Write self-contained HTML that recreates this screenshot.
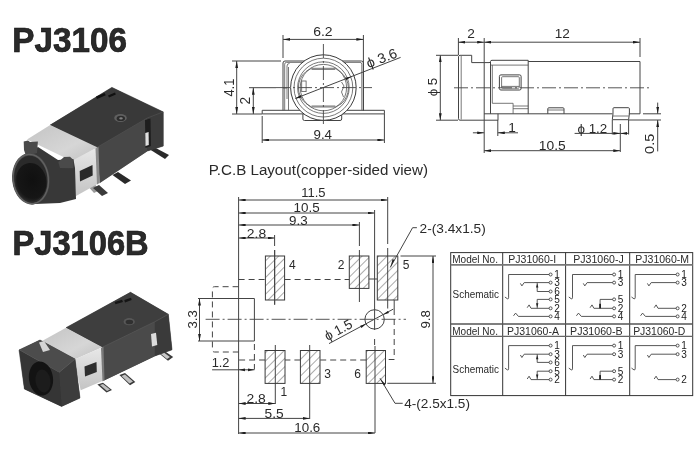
<!DOCTYPE html>
<html><head><meta charset="utf-8">
<style>
html,body{margin:0;padding:0;background:#fff;}
svg{display:block;}
text{font-family:"Liberation Sans",sans-serif;fill:#2a2a2a;}
.t{font-family:"Liberation Sans",sans-serif;}
.ln{stroke:#444;stroke-width:1;fill:none;}
.th{stroke:#555;stroke-width:0.8;fill:none;}
.cl{stroke:#444;stroke-width:0.9;fill:none;stroke-dasharray:14 3 2 3;}
.sc{stroke:#444;stroke-width:0.9;fill:none;}
.lb{fill:#222;}
.ds{stroke:#444;stroke-width:1;fill:none;stroke-dasharray:6 4;}
</style></head>
<body>
<svg width="700" height="450" viewBox="0 0 700 450" style="will-change:transform">
<defs>
<marker id="ar" viewBox="0 0 7 2.8" refX="7" refY="1.4" markerWidth="7" markerHeight="2.8" markerUnits="userSpaceOnUse" orient="auto-start-reverse">
<path d="M0,0 L7,1.4 L0,2.8 z" fill="#1e1e1e"/>
</marker>
<pattern id="hatch" patternUnits="userSpaceOnUse" width="5.9" height="5.9" patternTransform="rotate(45)">
<line x1="0" y1="0" x2="0" y2="5.9" stroke="#444" stroke-width="0.9"/>
</pattern>
</defs>
<rect width="700" height="450" fill="#fff"/>
<!-- TITLES -->
<text x="12.3" y="52.2" font-size="34.6" font-weight="bold" fill="#111" stroke="#111" stroke-width="0.7" textLength="114.6" lengthAdjust="spacingAndGlyphs">PJ3106</text>
<text x="12.5" y="254.9" font-size="34.6" font-weight="bold" fill="#111" stroke="#111" stroke-width="0.7" textLength="136.2" lengthAdjust="spacingAndGlyphs">PJ3106B</text>
<!--FRONT-->
<g id="front">
<!-- dims -->
<line class="ln" x1="283" y1="39.4" x2="363.4" y2="39.4" marker-start="url(#ar)" marker-end="url(#ar)"/>
<line class="ln" x1="283" y1="35" x2="283" y2="58"/>
<line class="ln" x1="363.4" y1="35" x2="363.4" y2="110.5"/>
<line class="ln" x1="232" y1="61" x2="281" y2="61"/>
<line class="ln" x1="232" y1="114" x2="262" y2="114"/>
<line class="ln" x1="236.7" y1="61" x2="236.7" y2="114" marker-start="url(#ar)" marker-end="url(#ar)"/>
<line class="ln" x1="249" y1="87.7" x2="276" y2="87.7"/>
<line class="ln" x1="253.3" y1="87.7" x2="253.3" y2="114" marker-start="url(#ar)" marker-end="url(#ar)"/>
<line class="ln" x1="262.2" y1="116" x2="262.2" y2="143"/>
<line class="ln" x1="384.4" y1="114" x2="384.4" y2="143"/>
<line class="ln" x1="262.2" y1="140" x2="384.4" y2="140" marker-start="url(#ar)" marker-end="url(#ar)"/>
<!-- body -->
<path class="ln" d="M262.2,110.3 H384.4 V113.9 H262.2 Z"/>
<path class="ln" d="M283,110.3 V63 Q283,61 285,61 H361.4 Q363.4,61 363.4,63 V110.3"/>
<path class="th" d="M284.7,110.3 V64.2 Q284.7,62.4 286.5,62.4 H360 Q361.8,62.4 361.8,64.2 V110.3"/>
<path class="th" d="M287,99 V66 Q287,63.5 289.5,63.5"/>
<path class="th" d="M288.5,110.3 V67"/>
<path class="th" d="M283,88 H287"/>
<path class="ln" d="M302.9,113.9 V119 Q302.9,120.5 304.5,120.5 H340 Q341.7,120.5 341.7,119 V113.9"/>
<circle cx="323.4" cy="87.6" r="32.8" fill="#fff" stroke="#3a3a3a" stroke-width="1"/>
<circle class="th" cx="323.4" cy="87.6" r="29.4"/>
<circle class="th" cx="323.4" cy="87.6" r="25.8"/>
<circle class="th" cx="323.4" cy="87.6" r="23.2"/>
<path class="th" d="M311.5,68.3 H335.3 L340.5,72 A20.6,20.6 0 0 1 341,104 L335.3,107 H311.5 L306,103.5 A20.6,20.6 0 0 1 306,71.5 Z"/>
<path class="th" d="M311.5,69.4 H335.3 M311.5,106 H335.3"/>
<rect class="th" x="301.7" y="81" width="4.4" height="10.6"/>
<path class="th" d="M341.5,82 L344,86 L341.5,92 L343.5,97"/>
<line class="cl" x1="276" y1="87.6" x2="372" y2="87.6"/>
<line class="cl" x1="323.4" y1="44" x2="323.4" y2="124"/>
<line class="ln" x1="295.5" y1="98.4" x2="400.6" y2="57.4"/>
<path d="M295,98.7 L301.6,97.5 L300.6,95.1 Z" fill="#1e1e1e"/>
<path d="M351.8,76.5 L346.2,80.1 L345.2,77.7 Z" fill="#1e1e1e"/>
<text transform="translate(368.6,68.3) rotate(-21.3)" font-size="13.8" textLength="31.8" lengthAdjust="spacingAndGlyphs">&#981; 3.6</text>
</g>

<!--SIDE-->
<g id="side">
<line class="ln" x1="458.4" y1="38" x2="458.4" y2="55"/>
<line class="ln" x1="484.2" y1="38" x2="484.2" y2="153"/>
<line class="ln" x1="640" y1="38" x2="640" y2="57"/>
<line class="ln" x1="458.4" y1="42.2" x2="484.2" y2="42.2" marker-start="url(#ar)" marker-end="url(#ar)"/>
<line class="ln" x1="484.2" y1="42.2" x2="640" y2="42.2" marker-start="url(#ar)" marker-end="url(#ar)"/>
<line class="ln" x1="436" y1="55.3" x2="458" y2="55.3"/>
<line class="ln" x1="436" y1="120.2" x2="458" y2="120.2"/>
<line class="ln" x1="440.3" y1="55.3" x2="440.3" y2="120.2" marker-start="url(#ar)" marker-end="url(#ar)"/>
<!-- plug -->
<path class="ln" d="M484.1,120.2 H460 Q458.5,120.2 458.5,118.7 V56.8 Q458.5,55.3 460,55.3 H471.7 V62.6 H484.1"/>
<line class="th" x1="461.2" y1="56" x2="461.2" y2="119.5"/>
<!-- body -->
<path class="ln" d="M484.1,62.6 H489 Q490.5,62.6 490.5,61.5 Q490.5,60.3 492,60.3 H528.2"/>
<path class="ln" d="M528.2,61.5 H640 V113.8 H628.8 M612.6,113.8 H498 M484.1,113.8 H498 V120.2 H484.1"/>
<line class="ln" x1="490.5" y1="62" x2="490.5" y2="113.8"/>
<line class="th" x1="492.3" y1="65.1" x2="492.3" y2="103.3"/>
<line class="th" x1="490.5" y1="65.1" x2="528.2" y2="65.1"/>
<path class="th" d="M492.3,103.3 H513.1 V113.8 M513.1,106 H528.2 M513.1,108.7 H528.2"/>
<line class="ln" x1="528.2" y1="60.3" x2="528.2" y2="113.8"/>
<rect class="ln" x="499.4" y="74.9" width="21.7" height="15.1" rx="1.5"/>
<rect class="th" x="501.6" y="76.7" width="17.7" height="11.5" rx="1"/>
<line class="th" x1="501.6" y1="86.4" x2="519.3" y2="86.4"/>
<path class="ln" d="M547.8,113.8 V108.8 Q547.8,107.8 548.8,107.8 H563 Q564,107.8 564,108.8 V113.8"/>
<line class="th" x1="547.8" y1="110" x2="564" y2="110"/>
<path class="ln" d="M613,113.8 V108.7 Q613,107.7 614,107.7 H628.4 Q629.4,107.7 629.4,108.7 V113.8 L628.6,119.7 H612.3 Z"/>
<line class="th" x1="612.6" y1="116" x2="628.8" y2="116"/>
<line class="cl" x1="454" y1="87.8" x2="649" y2="87.8"/>
<!-- bottom dims -->
<line class="ln" x1="497.8" y1="120" x2="497.8" y2="136"/>
<line class="ln" x1="472.9" y1="132.8" x2="484.2" y2="132.8" marker-end="url(#ar)"/>
<line class="ln" x1="518" y1="132.8" x2="497.8" y2="132.8" marker-end="url(#ar)"/>
<line class="ln" x1="484.2" y1="150.7" x2="620.3" y2="150.7" marker-start="url(#ar)" marker-end="url(#ar)"/>
<line class="ln" x1="612.3" y1="120" x2="612.3" y2="134.5"/>
<line class="ln" x1="628.6" y1="120" x2="628.6" y2="134.5"/>
<line class="ln" x1="620.3" y1="124" x2="620.3" y2="152"/>
<line class="ln" x1="574.6" y1="133.4" x2="620.3" y2="133.4" marker-end="url(#ar)"/>
<line class="ln" x1="628.6" y1="133.4" x2="620.3" y2="133.4" marker-end="url(#ar)"/>
<line class="ln" x1="643" y1="113.8" x2="661" y2="113.8"/>
<line class="ln" x1="628.6" y1="120" x2="661" y2="120"/>
<line class="ln" x1="657.7" y1="102.6" x2="657.7" y2="113.8" marker-end="url(#ar)"/>
<line class="ln" x1="657.7" y1="151.4" x2="657.7" y2="120" marker-end="url(#ar)"/>
</g>

<!--PCB-->
<g id="pcb">
<line class="ln" x1="238.6" y1="197" x2="238.6" y2="434"/>
<line class="ln" x1="238.6" y1="200" x2="387.7" y2="200" marker-start="url(#ar)" marker-end="url(#ar)"/>
<line class="ln" x1="238.6" y1="213" x2="374.5" y2="213" marker-start="url(#ar)" marker-end="url(#ar)"/>
<line class="ln" x1="238.6" y1="225" x2="359.4" y2="225" marker-start="url(#ar)" marker-end="url(#ar)"/>
<line class="ln" x1="238.6" y1="238" x2="274.6" y2="238" marker-start="url(#ar)" marker-end="url(#ar)"/>
<!-- ext / centre lines -->
<path class="ln" d="M387.7,197 V244 M387.7,248 V308.5"/>
<line class="ln" x1="374.6" y1="210" x2="374.6" y2="330"/>
<path class="ln" d="M359.4,222 V246 M359.4,250 V302"/>
<path class="ln" d="M274.6,235 V246 M274.6,250 V304"/>
<path class="ds" d="M374.6,339 V346"/>
<path class="ln" d="M375,346 V433"/>
<path class="ln" d="M275.3,345 V404"/>
<path class="ln" d="M309.7,345 V419"/>
<!-- pads -->
<rect x="265.4" y="256" width="19.2" height="44" fill="url(#hatch)" stroke="#3a3a3a" stroke-width="1"/>
<rect x="349.3" y="256" width="19.6" height="32.4" fill="url(#hatch)" stroke="#3a3a3a" stroke-width="1"/>
<rect x="377.3" y="256" width="20.5" height="44" fill="url(#hatch)" stroke="#3a3a3a" stroke-width="1"/>
<rect x="265.1" y="350.5" width="19.9" height="32.9" fill="url(#hatch)" stroke="#3a3a3a" stroke-width="1"/>
<rect x="300.4" y="350.5" width="19.6" height="32.9" fill="url(#hatch)" stroke="#3a3a3a" stroke-width="1"/>
<rect x="366.2" y="350.5" width="19.3" height="32.9" fill="url(#hatch)" stroke="#3a3a3a" stroke-width="1"/>
<line class="ln" x1="274.7" y1="250" x2="274.7" y2="305"/>
<!-- dashed outline -->
<path class="ds" d="M238.6,279.5 H265.4 M284.6,279.5 H349.3"/>
<path class="ln" d="M368.9,279 H377.3"/>
<path class="ds" d="M238.6,286.7 H214.6 Q212.4,286.7 212.4,289 V349.5 Q212.4,352 214.6,352 H238.6"/>
<path class="ds" d="M394.2,309 V359.5 H385.5 M366.2,360 H320 M300.4,360 H285 M265.1,360 H238.6"/>
<line class="ln" x1="394.2" y1="300" x2="394.2" y2="309"/>
<!-- plug rect -->
<path class="ln" d="M198,298.5 H254.4 V341 H198"/>
<path class="ds" d="M254.4,344 V369.5"/>
<line class="ln" x1="199.5" y1="298.5" x2="199.5" y2="341" marker-start="url(#ar)" marker-end="url(#ar)"/>
<line class="cl" x1="205.6" y1="319.3" x2="406" y2="319.3"/>
<circle class="ln" cx="374.6" cy="319.4" r="9.7"/>
<line class="ln" x1="329" y1="343.6" x2="393.3" y2="309.1"/>
<path d="M366.1,324 L361.4,328 L360.2,325.7 Z" fill="#1e1e1e"/>
<path d="M383.1,314.8 L389,313.1 L387.8,310.9 Z" fill="#1e1e1e"/>
<text transform="translate(327.6,341) rotate(-28.2)" font-size="13.6" textLength="29.5" lengthAdjust="spacingAndGlyphs">&#981; 1.5</text>
<!-- 9.8 -->
<line class="ln" x1="400.5" y1="256" x2="436" y2="256"/>
<line class="ln" x1="387.3" y1="383.3" x2="436" y2="383.3"/>
<line class="ln" x1="433" y1="256" x2="433" y2="383.3" marker-start="url(#ar)" marker-end="url(#ar)"/>
<!-- leaders -->
<polyline class="ln" points="416.9,227.7 412.6,227.7 390.3,267.4"/>
<path d="M390.3,267.4 L392.6,259 L394.4,260.1 Z" fill="#222"/>
<polyline class="ln" points="380,378.3 395,403.3 402.7,403.3"/>
<path d="M380,378.3 L385.5,384.5 L383.8,385.6 Z" fill="#222"/>
<!-- 1.2 -->
<line class="ln" x1="212.1" y1="369.8" x2="254.4" y2="369.8"/>
<path d="M238.6,369.8 L245,368.4 L245,371.2 Z" fill="#222"/>
<path d="M254.4,369.8 L248,368.4 L248,371.2 Z" fill="#222"/>
<!-- bottom dims -->
<line class="ln" x1="238.6" y1="403.5" x2="275.3" y2="403.5" marker-start="url(#ar)" marker-end="url(#ar)"/>
<line class="ln" x1="238.6" y1="418.4" x2="309.7" y2="418.4" marker-start="url(#ar)" marker-end="url(#ar)"/>
<line class="ln" x1="238.6" y1="433" x2="375" y2="433" marker-start="url(#ar)" marker-end="url(#ar)"/>
</g>

<!--TABLE-->
<g id="table">
<rect x="450.7" y="252.6" width="242" height="143" fill="none" stroke="#333" stroke-width="1"/>
<line x1="502.7" y1="252.6" x2="502.7" y2="395.6" stroke="#333" stroke-width="1"/>
<line x1="565.6" y1="252.6" x2="565.6" y2="395.6" stroke="#333" stroke-width="1"/>
<line x1="629.7" y1="252.6" x2="629.7" y2="395.6" stroke="#333" stroke-width="1"/>
<line x1="450.7" y1="264.9" x2="692.7" y2="264.9" stroke="#777" stroke-width="1.7"/>
<line x1="450.7" y1="324" x2="692.7" y2="324" stroke="#555" stroke-width="1.4"/>
<line x1="450.7" y1="336.4" x2="692.7" y2="336.4" stroke="#666" stroke-width="1.4"/>
<path class="sc" d="M549.1,274.5 H508.6 V297.8 Q508.6,299.0 507.4,298.8 L504.9,297.0"/>
<circle class="sc" cx="550.6" cy="274.5" r="1.5"/>
<text x="554.2" y="278.1" font-size="10.3" textLength="5.6" lengthAdjust="spacingAndGlyphs" class="lb">1</text>
<path class="sc" d="M520.4,283.4 L521.9,285.9 L524.2,282.6 H549.1"/>
<circle class="sc" cx="550.6" cy="282.6" r="1.5"/>
<text x="554.2" y="286.2" font-size="10.3" textLength="5.6" lengthAdjust="spacingAndGlyphs" class="lb">3</text>
<path class="sc" d="M537.2,291.5 H549.1"/>
<circle class="sc" cx="550.6" cy="291.5" r="1.5"/>
<text x="554.2" y="295.1" font-size="10.3" textLength="5.6" lengthAdjust="spacingAndGlyphs" class="lb">6</text>
<path class="sc" d="M537.2,299.4 H549.1"/>
<circle class="sc" cx="550.6" cy="299.4" r="1.5"/>
<text x="554.2" y="303.0" font-size="10.3" textLength="5.6" lengthAdjust="spacingAndGlyphs" class="lb">5</text>
<path class="sc" d="M527.2,307.7 L529.1,304.9 L531.0,308.3 H549.1"/>
<circle class="sc" cx="550.6" cy="308.3" r="1.5"/>
<text x="554.2" y="311.9" font-size="10.3" textLength="5.6" lengthAdjust="spacingAndGlyphs" class="lb">2</text>
<path class="sc" d="M513.5,315.8 L515.6,313.1 L518.4,316.4 H549.1"/>
<circle class="sc" cx="550.6" cy="316.4" r="1.5"/>
<text x="554.2" y="320.0" font-size="10.3" textLength="5.6" lengthAdjust="spacingAndGlyphs" class="lb">4</text>
<path class="sc" d="M537.2,282.6 V291.5"/>
<path d="M537.2,283.4 L538.4,287.6 L536.0,287.6 Z" fill="#222"/>
<path class="sc" d="M537.2,299.4 V308.3"/>
<path d="M537.2,307.5 L538.4,303.3 L536.0,303.3 Z" fill="#222"/>
<path class="sc" d="M612.6,274.5 H572.5 V297.8 Q572.5,299.0 571.3,298.8 L568.8,297.0"/>
<circle class="sc" cx="614.1" cy="274.5" r="1.5"/>
<text x="617.7" y="278.1" font-size="10.3" textLength="5.6" lengthAdjust="spacingAndGlyphs" class="lb">1</text>
<path class="sc" d="M583.3,283.4 L584.8,285.9 L587.1,282.6 H612.6"/>
<circle class="sc" cx="614.1" cy="282.6" r="1.5"/>
<text x="617.7" y="286.2" font-size="10.3" textLength="5.6" lengthAdjust="spacingAndGlyphs" class="lb">3</text>
<path class="sc" d="M600.1,299.4 H612.6"/>
<circle class="sc" cx="614.1" cy="299.4" r="1.5"/>
<text x="617.7" y="303.0" font-size="10.3" textLength="5.6" lengthAdjust="spacingAndGlyphs" class="lb">5</text>
<path class="sc" d="M590.1,307.7 L592.0,304.9 L593.9,308.3 H612.6"/>
<circle class="sc" cx="614.1" cy="308.3" r="1.5"/>
<text x="617.7" y="311.9" font-size="10.3" textLength="5.6" lengthAdjust="spacingAndGlyphs" class="lb">2</text>
<path class="sc" d="M576.4,315.8 L578.5,313.1 L581.3,316.4 H612.6"/>
<circle class="sc" cx="614.1" cy="316.4" r="1.5"/>
<text x="617.7" y="320.0" font-size="10.3" textLength="5.6" lengthAdjust="spacingAndGlyphs" class="lb">4</text>
<path class="sc" d="M600.1,299.4 V308.3"/>
<rect x="599.2" y="303.8" width="1.8" height="4.5" fill="#222"/>
<path class="sc" d="M676.1,274.5 H635.2 V297.8 Q635.2,299.0 634.0,298.8 L631.5,297.0"/>
<circle class="sc" cx="677.6" cy="274.5" r="1.5"/>
<text x="681.2" y="278.1" font-size="10.3" textLength="5.6" lengthAdjust="spacingAndGlyphs" class="lb">1</text>
<path class="sc" d="M647.4,283.4 L648.9,285.9 L651.2,282.6 H676.1"/>
<circle class="sc" cx="677.6" cy="282.6" r="1.5"/>
<text x="681.2" y="286.2" font-size="10.3" textLength="5.6" lengthAdjust="spacingAndGlyphs" class="lb">3</text>
<path class="sc" d="M654.2,307.7 L656.1,304.9 L658.0,308.3 H676.1"/>
<circle class="sc" cx="677.6" cy="308.3" r="1.5"/>
<text x="681.2" y="311.9" font-size="10.3" textLength="5.6" lengthAdjust="spacingAndGlyphs" class="lb">2</text>
<path class="sc" d="M640.5,315.8 L642.6,313.1 L645.4,316.4 H676.1"/>
<circle class="sc" cx="677.6" cy="316.4" r="1.5"/>
<text x="681.2" y="320.0" font-size="10.3" textLength="5.6" lengthAdjust="spacingAndGlyphs" class="lb">4</text>
<path class="sc" d="M549.1,345.6 H508.6 V368.9 Q508.6,370.1 507.4,369.9 L504.9,368.1"/>
<circle class="sc" cx="550.6" cy="345.6" r="1.5"/>
<text x="554.2" y="349.2" font-size="10.3" textLength="5.6" lengthAdjust="spacingAndGlyphs" class="lb">1</text>
<path class="sc" d="M520.4,355.0 L521.9,357.5 L524.2,354.2 H549.1"/>
<circle class="sc" cx="550.6" cy="354.2" r="1.5"/>
<text x="554.2" y="357.8" font-size="10.3" textLength="5.6" lengthAdjust="spacingAndGlyphs" class="lb">3</text>
<path class="sc" d="M537.2,362.4 H549.1"/>
<circle class="sc" cx="550.6" cy="362.4" r="1.5"/>
<text x="554.2" y="366.0" font-size="10.3" textLength="5.6" lengthAdjust="spacingAndGlyphs" class="lb">6</text>
<path class="sc" d="M537.2,371.2 H549.1"/>
<circle class="sc" cx="550.6" cy="371.2" r="1.5"/>
<text x="554.2" y="374.8" font-size="10.3" textLength="5.6" lengthAdjust="spacingAndGlyphs" class="lb">5</text>
<path class="sc" d="M527.2,379.0 L529.1,376.2 L531.0,379.6 H549.1"/>
<circle class="sc" cx="550.6" cy="379.6" r="1.5"/>
<text x="554.2" y="383.2" font-size="10.3" textLength="5.6" lengthAdjust="spacingAndGlyphs" class="lb">2</text>
<path class="sc" d="M537.2,354.2 V362.4"/>
<path d="M537.2,355.0 L538.4,359.2 L536.0,359.2 Z" fill="#222"/>
<path class="sc" d="M537.2,371.2 V379.6"/>
<path d="M537.2,378.8 L538.4,374.6 L536.0,374.6 Z" fill="#222"/>
<path class="sc" d="M612.6,345.6 H572.5 V368.9 Q572.5,370.1 571.3,369.9 L568.8,368.1"/>
<circle class="sc" cx="614.1" cy="345.6" r="1.5"/>
<text x="617.7" y="349.2" font-size="10.3" textLength="5.6" lengthAdjust="spacingAndGlyphs" class="lb">1</text>
<path class="sc" d="M583.3,355.0 L584.8,357.5 L587.1,354.2 H612.6"/>
<circle class="sc" cx="614.1" cy="354.2" r="1.5"/>
<text x="617.7" y="357.8" font-size="10.3" textLength="5.6" lengthAdjust="spacingAndGlyphs" class="lb">3</text>
<path class="sc" d="M600.1,371.2 H612.6"/>
<circle class="sc" cx="614.1" cy="371.2" r="1.5"/>
<text x="617.7" y="374.8" font-size="10.3" textLength="5.6" lengthAdjust="spacingAndGlyphs" class="lb">5</text>
<path class="sc" d="M590.1,379.0 L592.0,376.2 L593.9,379.6 H612.6"/>
<circle class="sc" cx="614.1" cy="379.6" r="1.5"/>
<text x="617.7" y="383.2" font-size="10.3" textLength="5.6" lengthAdjust="spacingAndGlyphs" class="lb">2</text>
<path class="sc" d="M600.1,371.2 V379.6"/>
<rect x="599.2" y="375.1" width="1.8" height="4.5" fill="#222"/>
<path class="sc" d="M676.1,345.6 H635.2 V368.9 Q635.2,370.1 634.0,369.9 L631.5,368.1"/>
<circle class="sc" cx="677.6" cy="345.6" r="1.5"/>
<text x="681.2" y="349.2" font-size="10.3" textLength="5.6" lengthAdjust="spacingAndGlyphs" class="lb">1</text>
<path class="sc" d="M647.4,355.0 L648.9,357.5 L651.2,354.2 H676.1"/>
<circle class="sc" cx="677.6" cy="354.2" r="1.5"/>
<text x="681.2" y="357.8" font-size="10.3" textLength="5.6" lengthAdjust="spacingAndGlyphs" class="lb">3</text>
<path class="sc" d="M654.2,379.0 L656.1,376.2 L658.0,379.6 H676.1"/>
<circle class="sc" cx="677.6" cy="379.6" r="1.5"/>
<text x="681.2" y="383.2" font-size="10.3" textLength="5.6" lengthAdjust="spacingAndGlyphs" class="lb">2</text>
</g>
<!--PHOTO1-->
<g id="photo1">
<defs>
<linearGradient id="sh1" x1="0" y1="0" x2="1" y2="1"><stop offset="0" stop-color="#c4c4c4"/><stop offset="0.6" stop-color="#d6d6d6"/><stop offset="1" stop-color="#c0c0c0"/></linearGradient>
<linearGradient id="sf1" x1="0" y1="0" x2="0" y2="1"><stop offset="0" stop-color="#e8e8e8"/><stop offset="1" stop-color="#c4c4c4"/></linearGradient>
<radialGradient id="hole1" cx="0.55" cy="0.45" r="0.6"><stop offset="0" stop-color="#101010"/><stop offset="0.8" stop-color="#161616"/><stop offset="1" stop-color="#2a2a2a"/></radialGradient>
</defs>
<!-- pins -->
<polygon points="146,147 151,145.5 169,155 165,159" fill="#2a2a2a"/>
<polygon points="112.5,175 118,172 131,180.5 125,184" fill="#2a2a2a"/>
<polygon points="86,184 92,181.5 100,190 94,193" fill="#9a9a9a"/>
<polygon points="93,188 99,185 108,193 102,196" fill="#3a3a3a"/>
<!-- body -->
<polygon points="50.2,125.1 111.9,87.4 163.2,111.9 163.2,146.1 147.3,151 99.7,182.8 97,149.5" fill="#3d3d3d" stroke="#3d3d3d" stroke-width="0.6"/>
<polygon points="50.2,125.1 111.9,87.4 163.2,111.9 147.3,118 97.2,147.3" fill="#393939"/>
<polygon points="97.2,147.3 147.3,118 147.3,151 99.7,182.8" fill="#474747"/>
<polygon points="147.3,118 163.2,111.9 163.2,146.1 147.3,151" fill="#3b3b3b"/>
<polyline points="97.2,147.3 147.3,118 163.2,111.9" fill="none" stroke="#4e4e4e" stroke-width="0.8"/>
<polygon points="145,120 150.5,118.5 151,146 145.5,148" fill="#1e1e1e"/>
<polygon points="145.3,133 148.6,132 148.8,145 145.5,146" fill="#e0e0e0"/>
<polygon points="96,96.5 104.5,93 105.8,95.2 97,99" fill="#111"/>
<polygon points="108,95.5 115,92.6 115.8,94.6 109,97.6" fill="#111"/>
<ellipse cx="120.5" cy="118" rx="6.3" ry="4" fill="#606060"/>
<ellipse cx="120.8" cy="118.4" rx="4.2" ry="2.6" fill="#2c2c2c"/>
<ellipse cx="121" cy="118.4" rx="1.8" ry="1.1" fill="#808080"/>
<!-- shell -->
<polygon points="27,139.5 50.2,125.1 97.2,147.3 74,162" fill="url(#sh1)"/>
<polygon points="36,148 57,160 73,162 58,164 37,152" fill="#ececec"/>
<polygon points="73.4,160 97.2,147.3 99.7,182.8 76,196" fill="url(#sf1)"/>
<polygon points="95.5,148.5 98.5,147 99.7,182.8 97,184.5" fill="#8a8a8a"/>
<polygon points="79.7,171 92.5,165 92.7,175.5 80,181.5" fill="#2a2a2a"/>
<!-- shroud -->
<polygon points="30,152 38,147 58,160 73.4,159 75,168 76,199 60,203 35,204 20,190 18,165" fill="#383838"/>
<polygon points="23.7,141.5 28,140.5 30,142 37.9,141.6 37,153 26,156 24,150" fill="#4a4a4a"/>
<polygon points="58.3,162 64,157 70,156.7 73.4,160 73.4,168.2 60,168" fill="#4a4a4a"/>
<!-- ring -->
<ellipse cx="30.8" cy="178.9" rx="18.7" ry="25.8" fill="#4c4c4c" transform="rotate(-6 30.8 178.9)"/>
<ellipse cx="30.8" cy="179.2" rx="16.6" ry="23.6" fill="#2a2a2a" transform="rotate(-6 30.8 179.2)"/>
<ellipse cx="30.8" cy="179" rx="17.6" ry="24.7" fill="none" stroke="#626262" stroke-width="1.2" transform="rotate(-6 30.8 179)"/>
<ellipse cx="31" cy="182" rx="15.5" ry="19.1" fill="url(#hole1)" transform="rotate(-6 31 182)"/>
</g>

<!--PHOTO2-->
<g id="photo2">
<!-- pins -->
<polygon points="153.7,349 159,347.3 173.2,357 168,360.8" fill="#3a3a3a"/>
<polygon points="156,350 159,349 170,357 167,359" fill="#c8c8c8"/>
<polygon points="119.4,375 125,373 135.3,382 130,385.2" fill="#3a3a3a"/>
<polygon points="121.5,376 125,374.5 133,381.5 129.5,383.5" fill="#c0c0c0"/>
<polygon points="97.4,384.5 103,382.8 112,390 106.5,392.6" fill="#3a3a3a"/>
<polygon points="100,385 103,384 110,389.5 107,391" fill="#c0c0c0"/>
<!-- body -->
<polygon points="66,327.7 130.5,292.3 168.3,314.3 172,349.8 154.9,355.9 103.6,380.4 102.3,347.3" fill="#424242" stroke="#424242" stroke-width="0.6"/>
<polygon points="66,327.7 130.5,292.3 168.3,314.3 154.9,321.7 102.3,347.3" fill="#3e3e3e"/>
<polygon points="102.3,347.3 154.9,321.7 154.9,355.9 103.6,380.4" fill="#4a4a4a"/>
<polygon points="154.9,321.7 168.3,314.3 172,349.8 154.9,355.9" fill="#3a3a3a"/>
<polyline points="102.3,347.3 154.9,321.7 168.3,314.3" fill="none" stroke="#555" stroke-width="0.8"/>
<polygon points="114.6,302 122,299.8 123,302 115.5,304.3" fill="#151515"/>
<polygon points="124.3,300 131,297.8 131.7,300 125,302.5" fill="#151515"/>
<ellipse cx="129.2" cy="321.7" rx="5.6" ry="3.6" fill="#585858"/>
<ellipse cx="129.4" cy="322" rx="3.8" ry="2.3" fill="#303030"/>
<polygon points="151,334 156,332.7 157.3,345 152,346.5" fill="#dcdcdc"/>
<!-- shell -->
<polygon points="42,341 66,327.7 102.3,347.3 74,359.7" fill="url(#sh1)"/>
<polygon points="74,359.7 102.3,347.3 103.6,380.4 80.7,390.3" fill="url(#sf1)"/>
<polygon points="101,348 103.5,346.8 104.5,380 102.5,381.5" fill="#7a7a7a"/>
<polygon points="84.5,366.5 96.5,362 96.8,372 85,376.5" fill="#2e2e2e"/>
<!-- frame -->
<polygon points="19,350 40,340 75,359 80,398 61.6,406.4 24.4,389" fill="#383838" stroke="#383838" stroke-width="0.5"/>
<polygon points="19,350 40,340 75,359 59,372.4" fill="#4c4c4c"/>
<polygon points="39,342.5 44,341 50,350 43,352" fill="#d4d4d4"/>
<polygon points="59,372.4 75,359 80,398 61.6,406.4" fill="#3c3c3c"/>
<polyline points="19.5,350 59,372.4 75,359" fill="none" stroke="#5a5a5a" stroke-width="1"/>
<polygon points="19.5,350.5 59,372.4 61.6,406.4 24.4,389" fill="#353535"/>
<ellipse cx="41" cy="378.5" rx="12" ry="17.2" fill="#131313" transform="rotate(-8 41 378.5)"/>
<ellipse cx="43" cy="381" rx="7.5" ry="11.5" fill="#1c1c1c" transform="rotate(-8 43 381)"/>
</g>

<g id="texts">
<text x="313.20" y="36.00" font-size="13.70" textLength="19.40" lengthAdjust="spacingAndGlyphs">6.2</text>
<text x="313.50" y="138.70" font-size="13.70" textLength="18.50" lengthAdjust="spacingAndGlyphs">9.4</text>
<text x="467.30" y="38.30" font-size="13.70">2</text>
<text x="554.68" y="37.90" font-size="13.70" textLength="15.13" lengthAdjust="spacingAndGlyphs">12</text>
<text x="508.33" y="131.70" font-size="13.70">1</text>
<text x="577.47" y="132.60" font-size="13.70" textLength="29.78" lengthAdjust="spacingAndGlyphs">&#981; 1.2</text>
<text x="538.76" y="149.70" font-size="13.70" textLength="26.91" lengthAdjust="spacingAndGlyphs">10.5</text>
<text x="208.69" y="174.70" font-size="15.07" textLength="219.28" lengthAdjust="spacingAndGlyphs">P.C.B Layout(copper-sided view)</text>
<text x="301.23" y="197.00" font-size="13.00" textLength="24.32" lengthAdjust="spacingAndGlyphs">11.5</text>
<text x="293.59" y="211.50" font-size="13.00" textLength="26.16" lengthAdjust="spacingAndGlyphs">10.5</text>
<text x="289.00" y="224.50" font-size="13.00" textLength="18.61" lengthAdjust="spacingAndGlyphs">9.3</text>
<text x="246.81" y="237.90" font-size="13.00" textLength="19.32" lengthAdjust="spacingAndGlyphs">2.8</text>
<text x="289.00" y="269.00" font-size="12.00">4</text>
<text x="337.67" y="269.00" font-size="12.00">2</text>
<text x="402.67" y="269.00" font-size="12.00">5</text>
<text x="324.15" y="377.90" font-size="12.00">3</text>
<text x="354.14" y="377.90" font-size="12.00">6</text>
<text x="280.52" y="395.80" font-size="12.00">1</text>
<text x="211.64" y="367.10" font-size="13.00" textLength="17.80" lengthAdjust="spacingAndGlyphs">1.2</text>
<text x="246.41" y="402.60" font-size="13.00" textLength="19.32" lengthAdjust="spacingAndGlyphs">2.8</text>
<text x="264.55" y="417.60" font-size="13.00" textLength="19.10" lengthAdjust="spacingAndGlyphs">5.5</text>
<text x="294.30" y="431.80" font-size="13.00" textLength="26.02" lengthAdjust="spacingAndGlyphs">10.6</text>
<text x="419.62" y="232.80" font-size="12.80" textLength="66.11" lengthAdjust="spacingAndGlyphs">2-(3.4x1.5)</text>
<text x="404.26" y="407.90" font-size="12.80" textLength="65.66" lengthAdjust="spacingAndGlyphs">4-(2.5x1.5)</text>
<text x="452.20" y="262.80" font-size="10.40" textLength="45.73" lengthAdjust="spacingAndGlyphs">Model No.</text>
<text x="452.20" y="334.80" font-size="10.40" textLength="45.73" lengthAdjust="spacingAndGlyphs">Model No.</text>
<text x="452.55" y="297.60" font-size="10.40" textLength="46.33" lengthAdjust="spacingAndGlyphs">Schematic</text>
<text x="452.55" y="372.60" font-size="10.40" textLength="46.33" lengthAdjust="spacingAndGlyphs">Schematic</text>
<text x="508.26" y="262.80" font-size="10.40" textLength="48.03" lengthAdjust="spacingAndGlyphs">PJ31060-I</text>
<text x="573.25" y="262.80" font-size="10.40" textLength="50.55" lengthAdjust="spacingAndGlyphs">PJ31060-J</text>
<text x="635.26" y="262.80" font-size="10.40" textLength="53.82" lengthAdjust="spacingAndGlyphs">PJ31060-M</text>
<text x="507.06" y="334.80" font-size="10.40" textLength="51.87" lengthAdjust="spacingAndGlyphs">PJ31060-A</text>
<text x="570.05" y="334.80" font-size="10.40" textLength="52.61" lengthAdjust="spacingAndGlyphs">PJ31060-B</text>
<text x="633.17" y="334.80" font-size="10.40" textLength="52.13" lengthAdjust="spacingAndGlyphs">PJ31060-D</text>
<text transform="translate(234.40,96.20) rotate(-90)" x="-0.32" y="0" font-size="13.90" textLength="17.76" lengthAdjust="spacingAndGlyphs">4.1</text>
<text transform="translate(250.20,103.90) rotate(-90)" x="-0.56" y="0" font-size="13.90">2</text>
<text transform="translate(437.00,95.80) rotate(-90)" x="-0.53" y="0" font-size="13.70" textLength="18.62" lengthAdjust="spacingAndGlyphs">&#981; 5</text>
<text transform="translate(654.30,153.30) rotate(-90)" x="-0.58" y="0" font-size="13.50" textLength="20.16" lengthAdjust="spacingAndGlyphs">0.5</text>
<text transform="translate(197.00,328.00) rotate(-90)" x="-0.53" y="0" font-size="13.10" textLength="18.43" lengthAdjust="spacingAndGlyphs">3.3</text>
<text transform="translate(430.00,328.00) rotate(-90)" x="-0.60" y="0" font-size="13.30" textLength="18.50" lengthAdjust="spacingAndGlyphs">9.8</text>
</g>
</svg>
</body></html>
